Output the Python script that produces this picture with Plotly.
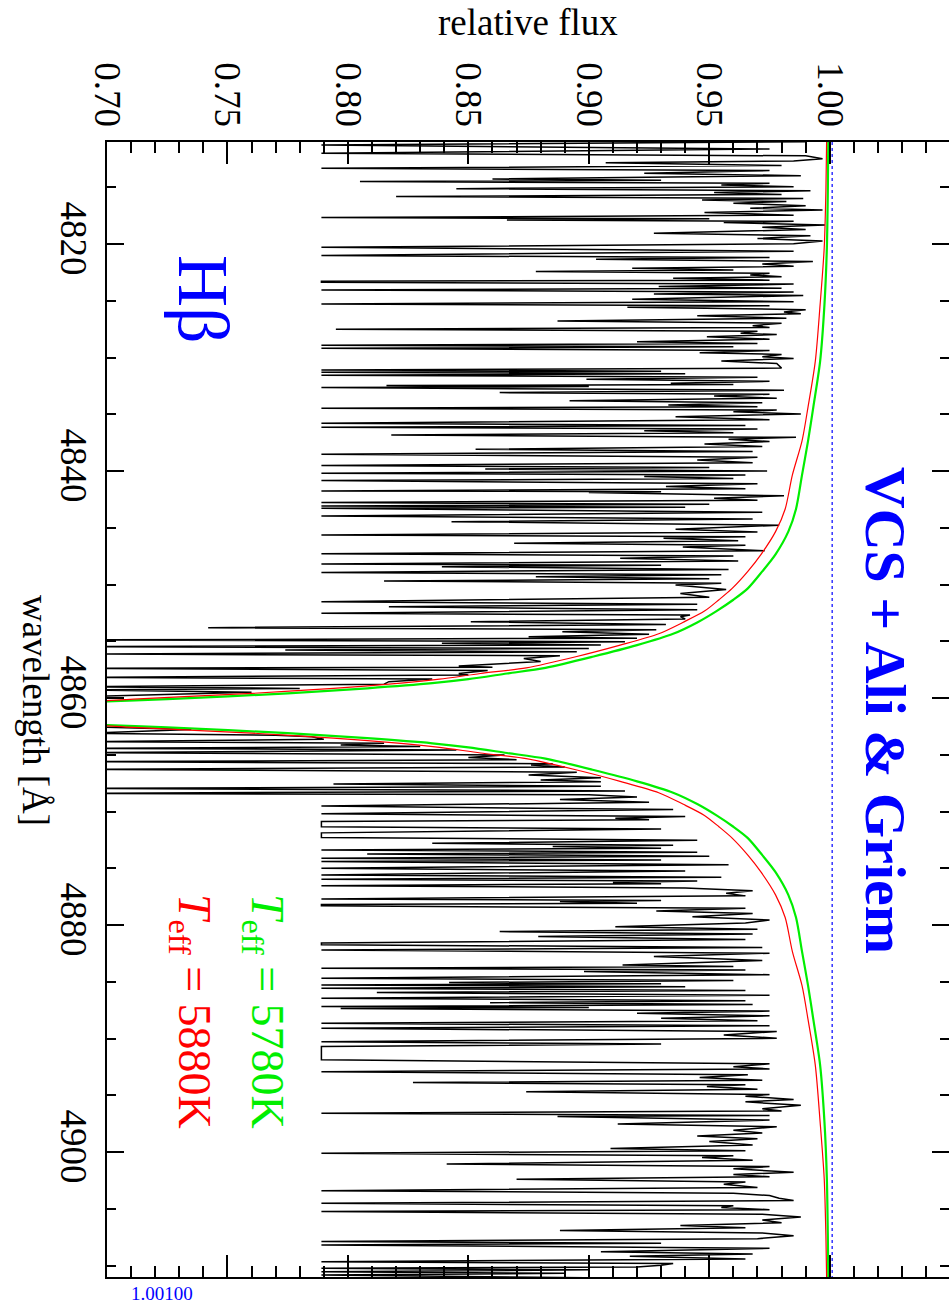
import plotly.graph_objects as go

# ---------------- data ----------------
# Observed spectrum: vertices (wavelength [A], relative flux)
spec_wave = [
 4810.97, 4811.26, 4811.62, 4811.99, 4812.22, 4812.47, 4812.67, 4812.82, 4813.07, 4813.32,
 4813.52, 4813.76, 4813.97, 4814.26, 4814.37, 4814.49, 4814.64, 4814.78, 4814.95, 4815.11,
 4815.29, 4815.46, 4815.62, 4815.81, 4815.97, 4816.11, 4816.25, 4816.40, 4816.62, 4816.84,
 4816.99, 4817.22, 4817.45, 4817.66, 4817.77, 4817.87, 4817.99, 4818.10, 4818.32, 4818.51,
 4818.72, 4819.04, 4819.27, 4819.51, 4819.72, 4819.97, 4820.28, 4820.62, 4821.01, 4821.17,
 4821.33, 4821.52, 4821.75, 4821.95, 4822.13, 4822.27, 4822.42, 4822.57, 4822.71, 4822.87,
 4823.01, 4823.17, 4823.27, 4823.35, 4823.52, 4823.74, 4823.89, 4824.04, 4824.22, 4824.39,
 4824.52, 4824.86, 4825.07, 4825.27, 4825.42, 4825.56, 4825.77, 4825.97, 4826.14, 4826.30,
 4826.52, 4826.77, 4826.97, 4827.18, 4827.34, 4827.50, 4827.67, 4827.85, 4827.97, 4828.15,
 4828.37, 4828.59, 4828.75, 4828.91, 4829.05, 4829.18, 4829.37, 4829.56, 4829.72, 4829.91,
 4830.07, 4830.29, 4830.52, 4830.92, 4831.08, 4831.19, 4831.29, 4831.42, 4831.55, 4831.72,
 4831.91, 4832.09, 4832.26, 4832.37, 4832.46, 4832.55, 4832.64, 4832.87, 4833.08, 4833.22,
 4833.37, 4833.57, 4833.79, 4833.97, 4834.17, 4834.32, 4834.46, 4834.62, 4834.76, 4834.97,
 4835.20, 4835.47, 4835.78, 4835.97, 4836.14, 4836.29, 4836.43, 4836.62, 4836.81, 4837.02,
 4837.19, 4837.39, 4837.60, 4837.82, 4838.07, 4838.27, 4838.51, 4838.77, 4839.01, 4839.25,
 4839.51, 4839.67, 4839.81, 4839.99, 4840.19, 4840.35, 4840.48, 4840.65, 4840.83, 4841.12,
 4841.36, 4841.55, 4841.74, 4841.81, 4841.89, 4842.17, 4842.39, 4842.57, 4842.77, 4842.92,
 4843.07, 4843.17, 4843.27, 4843.62, 4843.95, 4844.22, 4844.45, 4844.77, 4845.12, 4845.37,
 4845.62, 4845.77, 4845.92, 4846.14, 4846.36, 4846.52, 4846.69, 4847.02, 4847.27, 4847.47,
 4847.68, 4847.92, 4848.18, 4848.30, 4848.42, 4848.67, 4848.92, 4849.12, 4849.30, 4849.49,
 4849.68, 4849.87, 4850.03, 4850.42, 4850.77, 4851.12, 4851.50, 4851.72, 4851.94, 4852.22,
 4852.53, 4852.67, 4852.82, 4853.02, 4853.27, 4853.52, 4853.79, 4853.97, 4854.15, 4854.37,
 4854.59, 4854.72, 4854.87, 4855.02, 4855.17, 4855.32, 4855.46, 4855.62, 4855.76, 4855.92,
 4856.11, 4856.27, 4856.50, 4856.77, 4857.17, 4857.27, 4857.37, 4857.57, 4857.82, 4857.97,
 4858.17, 4858.32, 4858.55, 4858.77, 4858.99, 4859.14, 4859.27, 4859.47, 4859.87, 4860.07,
 4860.37, 4861.00, 4862.07, 4862.37, 4862.51, 4862.77, 4863.10, 4863.27, 4863.40, 4863.62,
 4863.84, 4863.97, 4864.13, 4864.27, 4864.42, 4864.57, 4864.80, 4865.01, 4865.22, 4865.42,
 4865.60, 4865.77, 4865.89, 4866.07, 4866.27, 4866.52, 4866.77, 4867.02, 4867.22, 4867.37,
 4867.57, 4867.77, 4867.95, 4868.17, 4868.39, 4868.52, 4868.72, 4868.92, 4869.17, 4869.51,
 4869.82, 4870.14, 4870.19, 4870.42, 4870.59, 4870.72, 4870.87, 4871.32, 4871.52, 4871.87,
 4872.27, 4872.52, 4872.79, 4872.95, 4873.08, 4873.22, 4873.37, 4873.57, 4873.73, 4873.92,
 4874.11, 4874.25, 4874.40, 4874.67, 4874.99, 4875.22, 4875.58, 4875.77, 4875.96, 4876.12,
 4876.25, 4876.35, 4876.46, 4876.52, 4876.72, 4876.97, 4877.19, 4877.42, 4877.69, 4877.82,
 4877.92, 4878.07, 4878.17, 4878.29, 4878.52, 4878.75, 4878.97, 4879.25, 4879.55, 4879.82,
 4880.13, 4880.37, 4880.57, 4880.79, 4881.01, 4881.27, 4881.57, 4881.72, 4881.97, 4882.19,
 4882.47, 4882.77, 4883.12, 4883.51, 4883.65, 4883.80, 4883.95, 4884.09, 4884.37, 4884.68,
 4884.87, 4885.06, 4885.17, 4885.27, 4885.42, 4885.56, 4885.75, 4885.94, 4886.17, 4886.44,
 4886.65, 4886.83, 4887.00, 4887.17, 4887.25, 4887.35, 4887.57, 4887.77, 4887.99, 4888.21,
 4888.42, 4888.65, 4888.87, 4889.09, 4889.37, 4889.67, 4889.97, 4890.27, 4890.47, 4890.70,
 4891.87, 4892.22, 4892.47, 4892.67, 4892.91, 4893.17, 4893.42, 4893.67, 4893.87, 4894.07,
 4894.22, 4894.45, 4894.67, 4894.92, 4895.07, 4895.37, 4895.57, 4895.87, 4896.17, 4896.37,
 4896.57, 4896.77, 4896.87, 4897.17, 4897.52, 4897.77, 4898.07, 4898.32, 4898.57, 4898.82,
 4899.07, 4899.37, 4899.67, 4899.87, 4900.10, 4900.32, 4900.47, 4900.72, 4901.04, 4901.27,
 4901.47, 4901.77, 4901.97, 4902.17, 4902.39, 4902.62, 4902.82, 4903.12, 4903.39, 4903.62,
 4903.82, 4904.07, 4904.27, 4904.51, 4904.72, 4904.87, 4905.07, 4905.24, 4905.47, 4905.72,
 4905.97, 4906.22, 4906.47, 4906.67, 4906.91, 4907.12, 4907.37, 4907.62, 4907.88, 4908.02,
 4908.17, 4908.47, 4908.77, 4908.97, 4909.17, 4909.42, 4909.65, 4909.82, 4909.97, 4910.12,
 4910.24, 4910.37, 4910.53, 4910.67, 4910.82, 4911.07,
]
spec_flux = [
 0.990, 0.789, 0.975, 0.789, 0.990, 0.997, 0.985, 0.907, 0.980, 0.789,
 0.975, 0.923, 0.988, 0.860, 0.930, 0.805, 0.975, 0.955, 0.985, 0.845,
 0.992, 0.952, 0.980, 0.820, 0.989, 0.947, 0.982, 0.960, 0.990, 0.967,
 0.997, 0.948, 0.985, 0.789, 0.950, 0.866, 0.985, 0.956, 0.998, 0.972,
 0.990, 0.927, 0.992, 0.970, 0.997, 0.985, 0.789, 0.985, 0.789, 0.975,
 0.903, 0.993, 0.972, 0.985, 0.918, 0.960, 0.878, 0.975, 0.967, 0.980,
 0.935, 0.975, 0.789, 0.789, 0.985, 0.929, 0.980, 0.789, 0.985, 0.927,
 0.989, 0.918, 0.985, 0.789, 0.975, 0.916, 0.990, 0.981, 0.988, 0.945,
 0.982, 0.887, 0.980, 0.968, 0.975, 0.795, 0.970, 0.963, 0.978, 0.949,
 0.975, 0.920, 0.970, 0.789, 0.960, 0.789, 0.975, 0.946, 0.980, 0.972,
 0.985, 0.955, 0.978, 0.980, 0.789, 0.930, 0.789, 0.940, 0.789, 0.970,
 0.899, 0.975, 0.934, 0.960, 0.816, 0.900, 0.789, 0.981, 0.863, 0.975,
 0.952, 0.978, 0.892, 0.972, 0.933, 0.970, 0.789, 0.978, 0.960, 0.988,
 0.936, 0.975, 0.789, 0.965, 0.789, 0.970, 0.923, 0.960, 0.818, 0.986,
 0.958, 0.975, 0.948, 0.972, 0.853, 0.968, 0.789, 0.970, 0.945, 0.968,
 0.789, 0.950, 0.857, 0.974, 0.789, 0.965, 0.923, 0.960, 0.789, 0.970,
 0.932, 0.965, 0.789, 0.930, 0.900, 0.981, 0.952, 0.970, 0.789, 0.950,
 0.789, 0.940, 0.789, 0.972, 0.789, 0.968, 0.843, 0.979, 0.936, 0.970,
 0.789, 0.965, 0.931, 0.962, 0.869, 0.965, 0.939, 0.973, 0.789, 0.960,
 0.913, 0.962, 0.789, 0.930, 0.839, 0.958, 0.789, 0.955, 0.878, 0.950,
 0.815, 0.955, 0.936, 0.957, 0.938, 0.950, 0.789, 0.945, 0.817, 0.945,
 0.789, 0.942, 0.938, 0.940, 0.851, 0.932, 0.742, 0.928, 0.889, 0.925,
 0.875, 0.920, 0.690, 0.915, 0.839, 0.905, 0.690, 0.900, 0.774, 0.895,
 0.690, 0.888, 0.873, 0.880, 0.846, 0.860, 0.690, 0.858, 0.846, 0.850,
 0.690, 0.835, 0.817, 0.815, 0.690, 0.780, 0.690, 0.760, 0.690, 0.700,
 0.650, 0.450, 0.650, 0.700, 0.690, 0.735, 0.690, 0.770, 0.785, 0.790,
 0.690, 0.815, 0.797, 0.830, 0.690, 0.845, 0.690, 0.865, 0.850, 0.870,
 0.690, 0.885, 0.876, 0.890, 0.690, 0.895, 0.875, 0.905, 0.880, 0.905,
 0.794, 0.905, 0.690, 0.915, 0.690, 0.900, 0.920, 0.888, 0.925, 0.789,
 0.935, 0.789, 0.789, 0.940, 0.911, 0.925, 0.789, 0.789, 0.930, 0.789,
 0.789, 0.945, 0.835, 0.935, 0.885, 0.930, 0.789, 0.945, 0.808, 0.950,
 0.789, 0.930, 0.789, 0.958, 0.789, 0.940, 0.789, 0.955, 0.789, 0.945,
 0.910, 0.930, 0.789, 0.789, 0.940, 0.968, 0.957, 0.965, 0.789, 0.930,
 0.888, 0.920, 0.789, 0.789, 0.965, 0.928, 0.968, 0.943, 0.975, 0.965,
 0.911, 0.970, 0.863, 0.968, 0.879, 0.965, 0.789, 0.789, 0.972, 0.789,
 0.975, 0.927, 0.972, 0.914, 0.960, 0.789, 0.965, 0.898, 0.975, 0.789,
 0.960, 0.842, 0.930, 0.789, 0.940, 0.789, 0.965, 0.812, 0.975, 0.789,
 0.965, 0.859, 0.968, 0.789, 0.900, 0.797, 0.975, 0.920, 0.975, 0.930,
 0.970, 0.789, 0.975, 0.789, 0.978, 0.956, 0.978, 0.789, 0.930, 0.789,
 0.789, 0.975, 0.960, 0.975, 0.789, 0.966, 0.946, 0.972, 0.827, 0.965,
 0.949, 0.970, 0.874, 0.975, 0.965, 0.985, 0.965, 0.988, 0.972, 0.980,
 0.789, 0.975, 0.887, 0.975, 0.912, 0.978, 0.960, 0.972, 0.945, 0.970,
 0.950, 0.968, 0.909, 0.965, 0.789, 0.960, 0.947, 0.968, 0.841, 0.975,
 0.960, 0.985, 0.960, 0.975, 0.870, 0.965, 0.956, 0.970, 0.789, 0.960,
 0.975, 0.979, 0.985, 0.789, 0.960, 0.955, 0.975, 0.789, 0.972, 0.988,
 0.972, 0.980, 0.938, 0.965, 0.888, 0.972, 0.985, 0.970, 0.789, 0.930,
 0.789, 0.975, 0.905, 0.968, 0.917, 0.965, 0.789, 0.935, 0.930, 0.920,
 0.789, 0.900, 0.789, 0.890, 0.789, 0.900,
]

# Model profiles (VCS + Ali & Griem)
green_wave = [4811.00, 4815.33, 4820.33, 4825.33, 4830.33, 4834.33, 4837.33, 4840.33, 4843.33, 4845.33,
              4847.33, 4848.83, 4850.33, 4851.33, 4852.33, 4853.33, 4854.33, 4855.33, 4856.33, 4857.33,
              4857.83, 4858.33, 4858.68, 4859.13, 4859.58, 4860.08, 4860.33, 4860.53, 4861.33,
              4862.13, 4862.33, 4862.58, 4863.08, 4863.53, 4863.98, 4864.33, 4864.83, 4865.33, 4866.33,
              4867.33, 4868.33, 4869.33, 4870.33, 4871.33, 4872.33, 4873.83, 4875.33, 4877.33, 4879.33,
              4882.33, 4885.33, 4888.33, 4892.33, 4897.33, 4902.33, 4907.33, 4911.00]
green_flux = [0.9994, 0.9992, 0.9988, 0.9978, 0.9960, 0.9932, 0.9910, 0.9885, 0.9860, 0.9828,
              0.9775, 0.9720, 0.9660, 0.9600, 0.9530, 0.9450, 0.9350, 0.9200, 0.9020, 0.8820,
              0.8660, 0.8500, 0.8350, 0.8080, 0.7750, 0.7250, 0.6950, 0.6700, 0.3800,
              0.6700, 0.6950, 0.7250, 0.7750, 0.8080, 0.8350, 0.8500, 0.8660, 0.8820, 0.9020,
              0.9200, 0.9350, 0.9450, 0.9530, 0.9600, 0.9660, 0.9720, 0.9775, 0.9828, 0.9860,
              0.9885, 0.9910, 0.9932, 0.9960, 0.9978, 0.9988, 0.9992, 0.9994]
red_wave = [4811.00, 4815.33, 4820.33, 4825.33, 4830.33, 4834.33, 4837.33, 4840.33, 4843.33, 4845.33,
            4847.33, 4848.83, 4850.33, 4851.33, 4852.33, 4853.33, 4854.33, 4855.33, 4856.33, 4857.33,
            4857.83, 4858.33, 4858.68, 4859.13, 4859.58, 4860.08, 4860.33, 4861.33,
            4862.33, 4862.58, 4863.08, 4863.53, 4863.98, 4864.33, 4864.83, 4865.33, 4866.33,
            4867.33, 4868.33, 4869.33, 4870.33, 4871.33, 4872.33, 4873.83, 4875.33, 4877.33, 4879.33,
            4882.33, 4885.33, 4888.33, 4892.33, 4897.33, 4902.33, 4907.33, 4911.00]
red_flux = [0.9987, 0.9984, 0.9977, 0.9960, 0.9940, 0.9910, 0.9885, 0.9845, 0.9815, 0.9775,
            0.9715, 0.9660, 0.9595, 0.9540, 0.9480, 0.9390, 0.9290, 0.9130, 0.8950, 0.8740,
            0.8550, 0.8380, 0.8220, 0.7940, 0.7600, 0.7110, 0.6900, 0.4000,
            0.6900, 0.7110, 0.7600, 0.7940, 0.8220, 0.8380, 0.8550, 0.8740, 0.8950,
            0.9130, 0.9290, 0.9390, 0.9480, 0.9540, 0.9595, 0.9660, 0.9715, 0.9775, 0.9815,
            0.9845, 0.9885, 0.9910, 0.9940, 0.9960, 0.9977, 0.9984, 0.9987]

continuum_level = 1.001
wave_range = [4811.0, 4911.0]
flux_range = [0.70, 1.0495]

FONT = "Liberation Serif, Times New Roman, Times, serif"

fig = go.Figure()
fig.add_trace(go.Scatter(x=spec_flux, y=spec_wave, mode="lines",
                         line=dict(color="black", width=1.5), hoverinfo="skip"))
fig.add_trace(go.Scatter(x=[continuum_level, continuum_level], y=wave_range, mode="lines",
                         line=dict(color="blue", width=1.2, dash="dot"), hoverinfo="skip"))
fig.add_trace(go.Scatter(x=green_flux, y=green_wave, mode="lines", line_shape="spline",
                         line=dict(color="#00ee00", width=2.2, smoothing=0.8), hoverinfo="skip"))
fig.add_trace(go.Scatter(x=red_flux, y=red_wave, mode="lines", line_shape="spline",
                         line=dict(color="#ff0000", width=1.2, smoothing=0.8), hoverinfo="skip"))
# invisible trace to carry the mirrored axes
fig.add_trace(go.Scatter(x=[flux_range[0]], y=[wave_range[0]], xaxis="x2", yaxis="y2",
                         mode="markers", marker=dict(opacity=0), hoverinfo="skip"))

tickfont = dict(family=FONT, size=37, color="black")
minor_x = dict(dtick=0.01, ticks="inside", ticklen=11, tickwidth=2, tickcolor="black", showgrid=False)
minor_y = dict(dtick=5, ticks="inside", ticklen=9, tickwidth=2, tickcolor="black", showgrid=False)
fig.update_layout(
    width=949, height=1307,
    margin=dict(l=107, r=0, t=142, b=30),
    paper_bgcolor="white", plot_bgcolor="white",
    showlegend=False,
    xaxis=dict(range=flux_range, side="top", showline=True, linecolor="black", linewidth=2,
               ticks="inside", ticklen=22, tickwidth=2, tickcolor="black",
               tick0=0.70, dtick=0.05, tickformat=".2f", tickangle=90, tickfont=tickfont,
               minor=minor_x, showgrid=False, zeroline=False),
    xaxis2=dict(range=flux_range, overlaying="x", side="bottom", anchor="y", showline=True,
                linecolor="black", linewidth=2, ticks="inside", ticklen=22, tickwidth=2, tickcolor="black",
                tick0=0.70, dtick=0.05, showticklabels=False, minor=minor_x,
                showgrid=False, zeroline=False),
    yaxis=dict(range=[wave_range[1], wave_range[0]], side="left", showline=True, linecolor="black",
               linewidth=2, ticks="inside", ticklen=17, tickwidth=2, tickcolor="black",
               tick0=4800, dtick=20, tickangle=90, tickfont=tickfont,
               minor=minor_y, showgrid=False, zeroline=False),
    yaxis2=dict(range=[wave_range[1], wave_range[0]], overlaying="y", side="right", anchor="x",
                showline=False, ticks="inside", ticklen=17, tickwidth=2, tickcolor="black",
                tick0=4800, dtick=20, showticklabels=False, minor=minor_y,
                showgrid=False, zeroline=False),
)

def txt(text, x, y, size, color, angle=0, ref="data"):
    d = dict(text=text, x=x, y=y, showarrow=False, textangle=angle,
             xanchor="center", yanchor="middle",
             font=dict(family=FONT, size=size, color=color))
    if ref == "paper":
        d.update(xref="paper", yref="paper")
    return d

ann = [
    txt("relative flux", 0.5, 1.1057, 37, "black", ref="paper"),
    txt("wavelength [Å]", -0.0855, 0.4996, 37, "black", angle=90, ref="paper"),
    txt("Hβ", 0.7398, 4824.92, 72, "blue", angle=90),
    txt("<b>VCS + Ali & Griem</b>", 1.023, 4861.04, 58, "blue", angle=90),
    txt("<i>T</i><sub>eff</sub> = 5780K", 0.7652, 4887.56, 46, "#00ee00", angle=90),
    txt("<i>T</i><sub>eff</sub> = 5880K", 0.7349, 4887.56, 46, "red", angle=90),
    txt("1.00100", 0.0653, -0.0141, 19, "blue", ref="paper"),
]
fig.update_layout(annotations=ann)

fig.write_html("out.html")
